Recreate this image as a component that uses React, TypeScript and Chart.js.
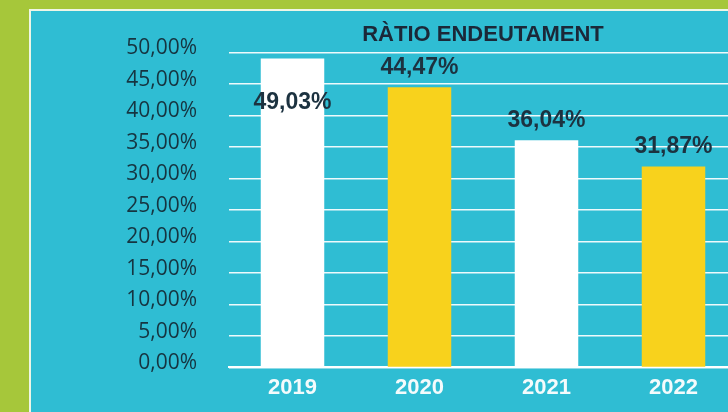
import React, { useEffect, useRef } from "react";
import { Chart, registerables } from "chart.js";

Chart.register(...registerables);

const categories = ["2019", "2020", "2021", "2022"];
const ratioValues = [49.03, 44.47, 36.04, 31.87];
const barColors = ["#ffffff", "#f8d21c", "#ffffff", "#f8d21c"];
const titleText = "RÀTIO ENDEUTAMENT";
const yMin = 0;
const yMax = 50;
const yStep = 5;

const fmt = (v: number) => v.toFixed(2).replace(".", ",") + "%";

const valueLabels = {
  id: "valueLabels",
  afterDatasetsDraw(chart: any) {
    const { ctx, chartArea } = chart;
    const meta = chart.getDatasetMeta(0);
    ctx.save();
    ctx.font = "bold 23px 'Liberation Sans', Arial, sans-serif";
    ctx.fillStyle = "#1c3240";
    ctx.textAlign = "center";
    ctx.textBaseline = "middle";
    meta.data.forEach((el: any, i: number) => {
      let y = el.y - 20;
      if (y - 12 < chartArea.top) y = el.y + 44;
      ctx.fillText(fmt(ratioValues[i]), el.x, y);
    });
    ctx.restore();
  },
};

export default function App() {
  const ref = useRef<HTMLCanvasElement | null>(null);
  useEffect(() => {
    if (!ref.current) return;
    const chart = new Chart(ref.current, {
      type: "bar",
      data: {
        labels: categories,
        datasets: [
          {
            data: ratioValues,
            backgroundColor: barColors,
            borderWidth: 0,
            categoryPercentage: 1,
            barPercentage: 0.5,
          },
        ],
      },
      options: {
        responsive: false,
        animation: false,
        devicePixelRatio: 1,
        layout: { padding: { left: 0, right: 111, top: 22, bottom: 9 } },
        plugins: {
          legend: { display: false },
          tooltip: { enabled: false },
          title: {
            display: true,
            fullSize: false,
            text: titleText,
            color: "#1b2838",
            font: { family: "'Liberation Sans', Arial, sans-serif", size: 22, weight: "bold", lineHeight: 1.2 },
            padding: { top: 0, bottom: 4 },
          },
        },
        scales: {
          x: {
            grid: { display: false, drawTicks: false },
            border: { display: true, color: "#ffffff", width: 2 },
            ticks: {
              color: "#f4fbfc",
              padding: 7,
              font: { family: "'Liberation Sans', Arial, sans-serif", size: 22, weight: "bold", lineHeight: 1.2 },
            },
            afterFit: (s: any) => {
              s.height = 34;
            },
          },
          y: {
            min: yMin,
            max: yMax,
            grid: { color: "rgba(255,255,255,0.92)", lineWidth: 1.5, drawTicks: false },
            border: { display: false },
            ticks: {
              stepSize: yStep,
              color: "#163440",
              padding: 32,
              labelOffset: -4,
              font: { family: "'Open Sans', sans-serif", size: 21, lineHeight: 1.2 },
              callback: (v: any) => fmt(Number(v)),
            },
            afterFit: (s: any) => {
              s.width = 129;
            },
          },
        },
      },
      plugins: [valueLabels],
    });
    return () => chart.destroy();
  }, []);

  return (
    <div
      style={{
        position: "fixed",
        left: 0,
        top: 0,
        width: 728,
        height: 412,
        overflow: "hidden",
        background: "#a6c73a",
      }}
    >
      <div
        style={{
          position: "absolute",
          left: 29,
          top: 9,
          right: 0,
          bottom: 0,
          background: "#2fbdd3",
          borderLeft: "2px solid #eef6e6",
          borderTop: "2px solid #eef6e6",
        }}
      />
      <canvas
        ref={ref}
        width={748}
        height={412}
        style={{ position: "absolute", left: 100, top: 0, width: 748, height: 412 }}
      />
    </div>
  );
}
